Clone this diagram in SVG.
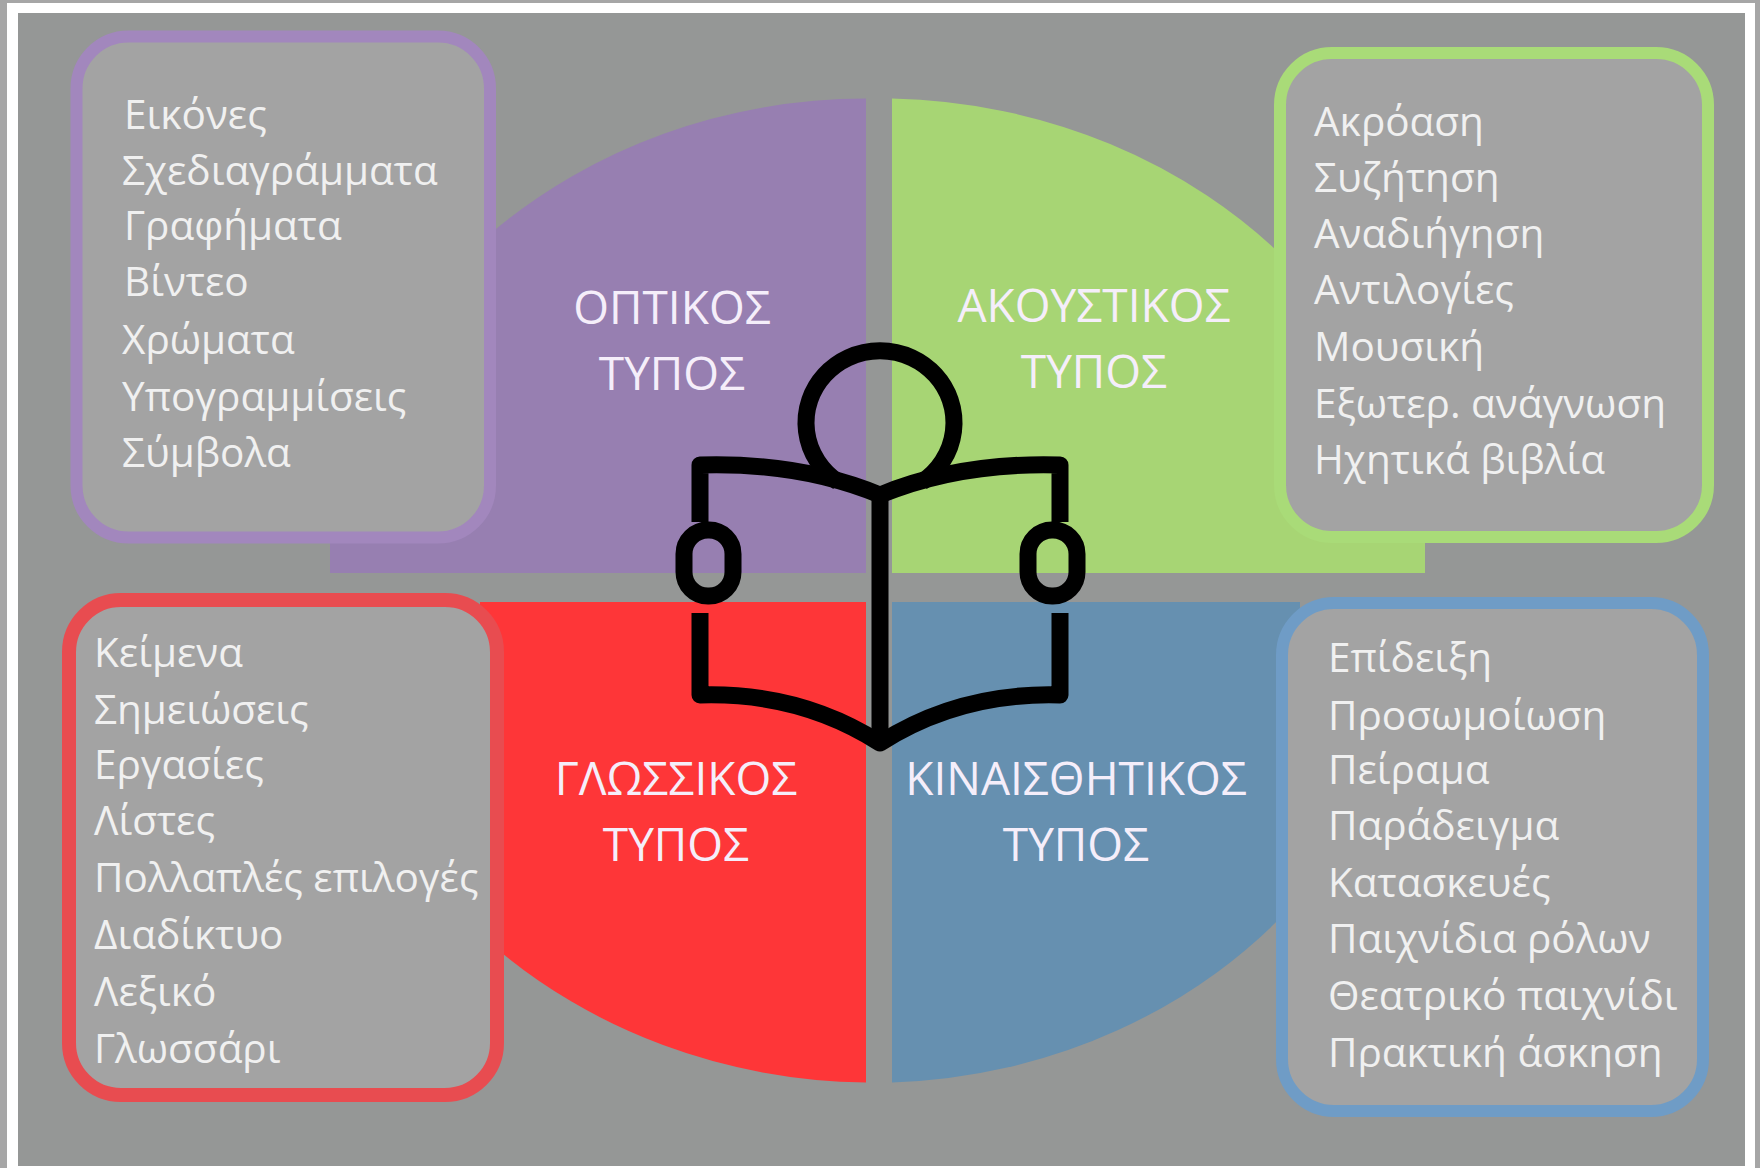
<svg xmlns="http://www.w3.org/2000/svg" width="1760" height="1168" viewBox="0 0 1760 1168">
<style>
.li{font-family:"Open Sans","Noto Sans",sans-serif;font-weight:400;font-size:40.500px;fill:#f0f0f0}
.ti{font-family:"Open Sans","Noto Sans",sans-serif;font-weight:400;font-size:46px;fill:#f5eefa;text-anchor:middle}
.box{fill:#a3a3a3;stroke-width:12}
.ic{fill:none;stroke:#000;stroke-width:17;stroke-linejoin:round}
</style>
<rect width="1760" height="1168" fill="#a6a6a6"/>
<rect x="7" y="3" width="1748" height="1165" fill="#fff"/>
<rect x="18" y="13" width="1727" height="1153" fill="#959796"/>
<g id="quadrants">
<path d="M866 98.500A550 500 0 0 0 490 234L490 480L438 535L438 543L330 543L330 573L866 573Z" fill="#977fb1"/>
<path d="M892 98.500A550 492 0 0 1 1290 263.500L1285 480L1332 535L1332 543L1425 543L1425 573L892 573Z" fill="#a7d574"/>
<path d="M866 602L480 602L480 900L490 943A550 492 0 0 0 866 1082.500Z" fill="#fe3638"/>
<path d="M892 602L1300 602L1300 897A550 500 0 0 1 892 1082.500Z" fill="#6690b0"/>
</g>
<g id="node-visual-box"><rect class="box" x="76.500" y="36.500" width="413.500" height="501" rx="52" stroke="#a287bd"/>
<text class="li" x="124" y="129">Εικόνες</text><text class="li" x="122" y="185">Σχεδιαγράμματα</text><text class="li" x="124" y="240">Γραφήματα</text><text class="li" x="124" y="296">Βίντεο</text><text class="li" x="122" y="354">Χρώματα</text><text class="li" x="122" y="411">Υπογραμμίσεις</text><text class="li" x="122" y="467">Σύμβολα</text></g>
<g id="node-auditory-box"><rect class="box" x="1280" y="53" width="428" height="484" rx="52" stroke="#a9db78"/>
<text class="li" x="1314" y="136">Ακρόαση</text><text class="li" x="1314" y="192">Συζήτηση</text><text class="li" x="1314" y="248">Αναδιήγηση</text><text class="li" x="1314" y="304">Αντιλογίες</text><text class="li" x="1314" y="361">Μουσική</text><text class="li" x="1314" y="418">Εξωτερ. ανάγνωση</text><text class="li" x="1314" y="474">Ηχητικά βιβλία</text></g>
<g id="node-verbal-box"><rect class="box" x="69" y="600" width="428" height="495" rx="52" stroke="#e84c50" style="stroke-width:14"/>
<text class="li" x="94" y="667">Κείμενα</text><text class="li" x="94" y="724">Σημειώσεις</text><text class="li" x="94" y="779">Εργασίες</text><text class="li" x="94" y="835">Λίστες</text><text class="li" x="94" y="892">Πολλαπλές επιλογές</text><text class="li" x="94" y="949">Διαδίκτυο</text><text class="li" x="94" y="1006">Λεξικό</text><text class="li" x="94" y="1063">Γλωσσάρι</text></g>
<g id="node-kinesthetic-box"><rect class="box" x="1282" y="603" width="421" height="508" rx="52" stroke="#6f9cc6"/>
<text class="li" x="1328" y="672">Επίδειξη</text><text class="li" x="1328" y="730">Προσωμοίωση</text><text class="li" x="1328" y="784">Πείραμα</text><text class="li" x="1328" y="840">Παράδειγμα</text><text class="li" x="1328" y="897">Κατασκευές</text><text class="li" x="1328" y="953">Παιχνίδια ρόλων</text><text class="li" x="1328" y="1010">Θεατρικό παιχνίδι</text><text class="li" x="1328" y="1067">Πρακτική άσκηση</text></g>
<g id="node-visual"><text class="ti" x="672" y="324">ΟΠΤΙΚΟΣ</text><text class="ti" x="672" y="390">ΤΥΠΟΣ</text></g>
<g id="node-auditory"><text class="ti" x="1094" y="322">ΑΚΟΥΣΤΙΚΟΣ</text><text class="ti" x="1094" y="388">ΤΥΠΟΣ</text></g>
<g id="node-verbal"><text class="ti" x="676" y="795">ΓΛΩΣΣΙΚΟΣ</text><text class="ti" x="676" y="861">ΤΥΠΟΣ</text></g>
<g id="node-kinesthetic"><text class="ti" x="1076" y="795">ΚΙΝΑΙΣΘΗΤΙΚΟΣ</text><text class="ti" x="1076" y="861">ΤΥΠΟΣ</text></g>
<g id="node-reader">
<path class="ic" d="M838 482A74 72 0 1 1 922 482"/>
<path class="ic" d="M700 522V465Q800 462 880 495Q960 462 1060 465V522"/>
<path class="ic" d="M700 613V695Q800 692 880 743Q960 692 1060 695V613"/>
<path class="ic" d="M880 495V743"/>
<rect class="ic" x="684" y="530" width="49" height="66" rx="24"/>
<rect class="ic" x="1028" y="530" width="49" height="66" rx="24"/>
</g>
</svg>
